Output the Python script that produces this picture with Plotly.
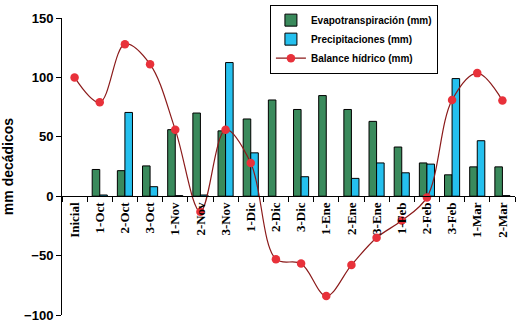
import plotly.graph_objects as go

categories = ["Inicial", "1-Oct", "2-Oct", "3-Oct", "1-Nov", "2-Nov", "3-Nov", "1-Dic",
              "2-Dic", "3-Dic", "1-Ene", "2-Ene", "3-Ene", "1-Feb", "2-Feb", "3-Feb",
              "1-Mar", "2-Mar"]
evapotranspiracion = [None, 22.5, 21.5, 25.5, 56, 70, 55, 65, 81, 73, 84.7, 73, 63, 41.4, 28, 18, 24.7, 24.7]
precipitaciones = [None, 1, 70.5, 8, 0.5, 1, 112.5, 36.5, None, 16.4, None, 15, 28, 19.7, 27, 99, 46.7, 0.5]
balance = [100, 79, 128, 111, 56, -13, 56, 28, -53, -56.7, -84, -58, -35, -20.5, -1, 81, 103.6, 80.6]
y_ticks = [150, 100, 50, 0, -50, -100]

fig = go.Figure()
fig.add_trace(go.Bar(x=categories, y=evapotranspiracion, name="Evapotranspiración (mm)",
                     marker=dict(color="#3a8a5c", line=dict(color="black", width=1))))
fig.add_trace(go.Bar(x=categories, y=precipitaciones, name="Precipitaciones (mm)",
                     marker=dict(color="#25c0ee", line=dict(color="black", width=1))))
fig.add_trace(go.Scatter(x=categories, y=balance, name="Balance hídrico (mm)",
                         mode="lines+markers", line=dict(color="#8b1a1a", width=1.2, shape="spline", smoothing=1),
                         marker=dict(color="#e8313a", size=8.5)))

fig.update_layout(
    width=520, height=328,
    margin=dict(l=62, r=5, t=17, b=11),
    paper_bgcolor="white", plot_bgcolor="white",
    barmode="group", bargap=0.4, bargroupgap=0,
    showlegend=True,
    legend=dict(x=0.459, y=1.045, xanchor="left", yanchor="top",
                bordercolor="black", borderwidth=1, bgcolor="white",
                font=dict(family="Arial", size=10, color="black", weight="bold"),
                tracegroupgap=0, itemwidth=30),
    xaxis=dict(type="category", range=[-0.5, 17.5], anchor="free", position=0.4,
               showline=True, linecolor="black", linewidth=1,
               ticks="outside", ticklen=5, tickcolor="black", tickson="boundaries",
               tickangle=-90, showgrid=False, zeroline=False,
               tickfont=dict(family="Liberation Serif", size=13, color="black", weight="bold")),
    yaxis=dict(range=[-100, 150], tickvals=y_ticks, showline=True, linecolor="black", linewidth=1,
               ticks="outside", ticklen=5, tickcolor="black", showgrid=False, zeroline=False,
               tickfont=dict(family="Arial", size=13, color="black", weight="bold"),
               title=dict(text="mm decádicos", font=dict(family="Arial", size=14, color="black", weight="bold"),
                          standoff=8)),
)

fig.write_html("out.html")
